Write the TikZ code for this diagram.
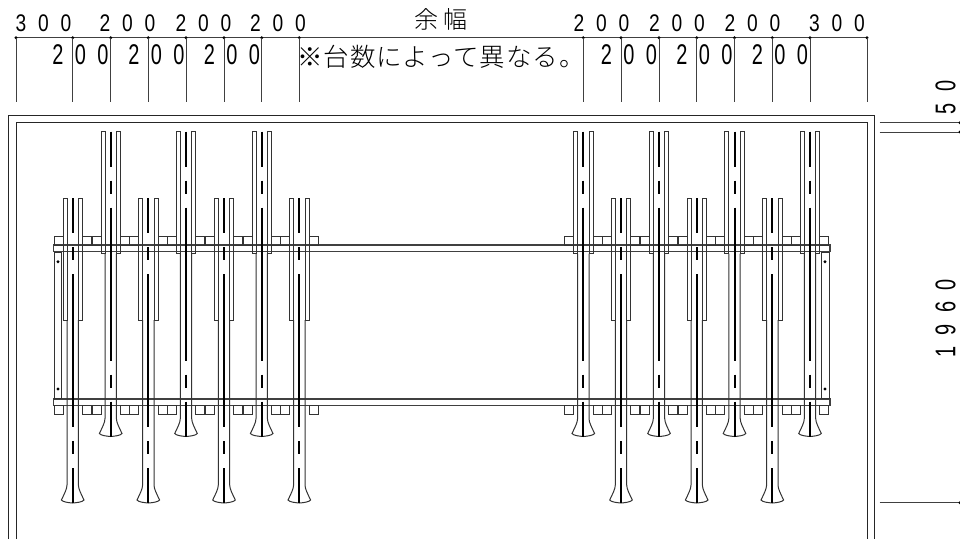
\documentclass[tikz,border=0pt]{standalone}
\usepackage{fontspec}
\usetikzlibrary{positioning}
\newfontfamily\dimfonta[LetterSpace=49,FakeStretch=0.8]{Liberation Sans}
\newfontfamily\dimfontb[LetterSpace=40,FakeStretch=0.7]{Liberation Sans}
\newfontfamily\jpfonta[LetterSpace=3.5]{Noto Sans CJK JP Light}
\newfontfamily\jpfontb[LetterSpace=21]{Noto Sans CJK JP Light}
\tikzset{
  wall/.style={line width=1pt,black!85},
  rackline/.style={line width=1pt,black!80},
  slotline/.style={line width=2pt,black},
  railline/.style={line width=1.2pt,black!75},
  dimline/.style={line width=1pt,black!75},
  dimdot/.style={circle,fill=black,inner sep=0pt,minimum size=3.2pt},
  dimsmall/.style={inner sep=0pt,font=\fontsize{24}{24}\dimfonta},
  dimbig/.style={inner sep=0pt,font=\fontsize{28.5}{28.5}\dimfontb}
}
\newcommand{\bikerack}[2]{
\begin{scope}[shift={(#1,#2)}]
\draw [rackline] (-5.7,0) rectangle (-9.7,122);
\draw [rackline] (5.7,0) rectangle (9.7,122);
\draw [rackline] (-5.7,122) -- (-5.7,287)
  .. controls (-5.7,291) and (-8.5,296) .. (-11.3,302)
  .. controls (-10,304) and (-4,304.7) .. (0,305)
  .. controls (4,304.7) and (10,304) .. (11.3,302)
  .. controls (8.5,296) and (5.7,291) .. (5.7,287) -- (5.7,122);
\draw [slotline] (0,0) -- (0,35);
\draw [slotline] (0,49) -- (0,62);
\draw [slotline] (0,76) -- (0,229);
\draw [slotline] (0,243) -- (0,256);
\draw [slotline] (0,270) -- (0,305);
\end{scope}
}
\begin{document}
\begin{tikzpicture}[x=1pt,y=-1pt]
\useasboundingbox (0,0) rectangle (960,539);

% frame
\draw [wall] (8.5,539) -- (8.5,115) -- (874.7,115) -- (874.7,539);
\draw [wall] (16,539) -- (16,122.7) -- (867,122.7) -- (867,539);

% rails
\draw [railline] (53.3,245) rectangle (830,251.7);
\draw [railline] (53.3,399) rectangle (830,405.7);

% end plates
\draw [rackline] (54,252) rectangle (61.7,398.5);
\draw [rackline] (821.3,252) rectangle (829,398.5);
\foreach \px in {58,825}{
  \fill (\px,261.7) circle (1.6);
  \fill (\px,389) circle (1.6);
}

% racks
\foreach \c/\t in {72.7/198,148.3/198,224/198,299.3/198,621/198,696.7/198,772.3/198,
  110.7/131.5,186/131.5,261.7/131.5,583.3/131.5,659/131.5,734.5/131.5,810/131.5}{
  \draw [rackline] (\c-18.7,236.5) rectangle (\c-9.7,245);
  \draw [rackline] (\c+9.7,236.5) rectangle (\c+18.7,245);
  \draw [rackline] (\c-18.7,405.7) rectangle (\c-9.7,414);
  \draw [rackline] (\c+9.7,405.7) rectangle (\c+18.7,414);
  \bikerack{\c}{\t}
}

% top dimension
\coordinate (dl) at (16,37.7);
\coordinate (dr) at (867,37.7);
\draw [dimline] (dl) -- (dr);
\foreach \x in {16,72.7,110.7,148.3,186,224,261.7,299.3,583.3,621,659,696.7,734.5,772.3,810,867}{
  \node[dimdot] at (\x,37.7) {};
  \draw [dimline] (\x,37.7) -- (\x,101.5);
}

\node(a1)[dimsmall] at (43.5,23.5){300};
\node(a2)[dimsmall] at (127.5,23.5){200};
\node(a3)[dimsmall] at (203.5,23.5){200};
\node(a4)[dimsmall] at (278,23.5){200};
\node(a5)[dimsmall] at (601.5,23.5){200};
\node(a6)[dimsmall] at (677,23.5){200};
\node(a7)[dimsmall] at (752.5,23.5){200};
\node(a8)[dimsmall] at (837,23.5){300};

\node(b1)[dimbig] at (80.5,55){200};
\node(b2)[dimbig] at (156.5,55){200};
\node(b3)[dimbig] at (232,55){200};
\node(b4)[dimbig] at (629,55){200};
\node(b5)[dimbig] at (704.5,55){200};
\node(b6)[dimbig] at (780,55){200};

\node(yohaku)[inner sep=0pt,font=\fontsize{24}{24}\jpfontb] at (441,19){余幅};
\node(note)[inner sep=0pt,font=\fontsize{25.5}{25.5}\jpfonta] at (441,57){※台数によって異なる。};

% right dimension
\foreach \y in {122.7,132,502.7}{
  \draw [dimline] (879.5,\y) -- (960,\y);
  \node[dimdot] at (960,\y) {};
}
\node(h1)[dimbig,rotate=90] at (945.5,97.5){50};
\node(h2)[dimbig,rotate=90] at (945.5,318.5){1960};

\end{tikzpicture}
\end{document}
